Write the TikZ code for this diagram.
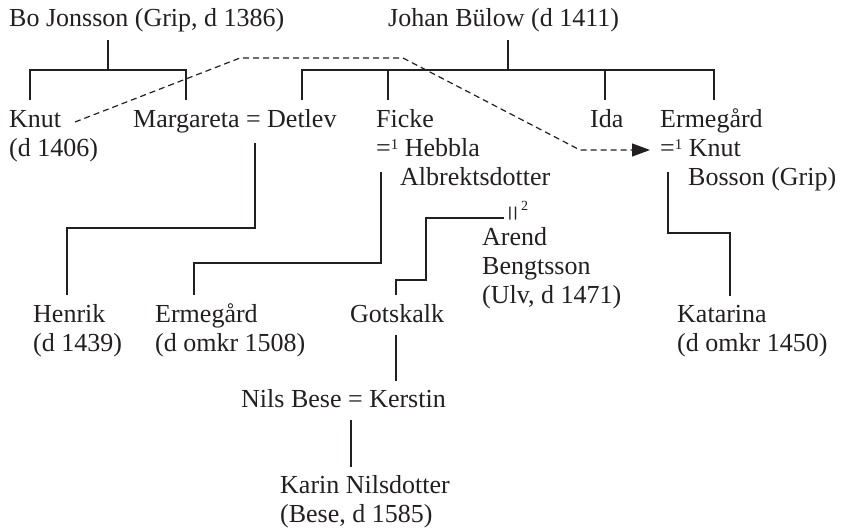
\documentclass[tikz,border=0pt]{standalone}
\usepackage{fontspec}
\setmainfont{Liberation Serif}
\usetikzlibrary{arrows.meta}
\definecolor{ink}{RGB}{35,31,32}
\newcommand{\myone}{\raisebox{7pt}{\fontsize{15}{15}\selectfont 1}}
\begin{document}
\begin{tikzpicture}[x=1pt,y=-1pt,
  lbl/.style={anchor=base west, inner sep=0pt, font=\fontsize{26}{29}\selectfont, text=ink},
  link/.style={draw=ink, line width=1.2pt},
  dashlink/.style={draw=ink, line width=1.2pt, dash pattern=on 6pt off 4pt},
  arrowtip/.style={-{Triangle[length=18pt,width=13pt]}}]
\useasboundingbox (0,0) rectangle (841,530);
% names
\node[lbl] (bo) at (9,27) {Bo Jonsson (Grip, d 1386)};
\node[lbl] (johan) at (388,27) {Johan Bülow (d 1411)};
\node[lbl] (knut) at (9,127) {Knut};
\node[lbl] (knutd) at (9,156) {(d 1406)};
\node[lbl] (marg) at (133,127) {Margareta = Detlev};
\node[lbl] (ficke) at (376,127) {Ficke};
\node[lbl] (hebbla) at (376,156) {=\myone{} Hebbla};
\node[lbl] (albr) at (400,185) {Albrektsdotter};
\node[lbl] (ida) at (590,127) {Ida};
\node[lbl] (erm) at (660,127) {Ermegård};
\node[lbl] (knutb) at (660,156) {=\myone{} Knut};
\node[lbl] (bosson) at (688,185) {Bosson (Grip)};
\node[lbl] (arend) at (482,245) {Arend};
\node[lbl] (beng) at (482,274) {Bengtsson};
\node[lbl] (ulv) at (482,303) {(Ulv, d 1471)};
\node[lbl] (henrik) at (33,322) {Henrik};
\node[lbl] (henrikd) at (33,351) {(d 1439)};
\node[lbl] (erm2) at (155,322) {Ermegård};
\node[lbl] (erm2d) at (155,351) {(d omkr 1508)};
\node[lbl] (gots) at (350,322) {Gotskalk};
\node[lbl] (kat) at (677,322) {Katarina};
\node[lbl] (katd) at (677,351) {(d omkr 1450)};
\node[lbl] (nils) at (241,407) {Nils Bese = Kerstin};
\node[lbl] (karin) at (280,493) {Karin Nilsdotter};
\node[lbl] (karind) at (280,522) {(Bese, d 1585)};
\node[inner sep=0pt, rotate=90, text=ink, font=\fontsize{28}{28}\selectfont] (eqtwo) at (516,214) {=};
\node[lbl, font=\fontsize{14}{14}\selectfont] (suptwo) at (521,210) {2};
% coordinates
\coordinate (boT) at (108,40);
\coordinate (boJ) at (108,70);
\coordinate (knutT) at (30,100);
\coordinate (margT) at (186,100);
\coordinate (johT) at (508,40);
\coordinate (johJ) at (508,70);
\coordinate (detT) at (302,100);
\coordinate (fickeT) at (388,100);
\coordinate (idaT) at (605,100);
\coordinate (ermT) at (714,100);
\coordinate (dashA) at (75,122);
\coordinate (dashB) at (240,58);
\coordinate (dashC) at (403,58);
\coordinate (dashD) at (580,150);
\coordinate (dashE) at (650,150);
\coordinate (mdS) at (255,143);
\coordinate (mdJ) at (255,228);
\coordinate (henT) at (67,295);
\coordinate (fhS) at (381,172);
\coordinate (fhJ) at (381,263);
\coordinate (erm2T) at (194,295);
\coordinate (ekS) at (668,172);
\coordinate (ekJ) at (668,233);
\coordinate (katT) at (730,296);
\coordinate (gotT) at (396,295);
\coordinate (gotJ) at (396,280);
\coordinate (gotK) at (426,280);
\coordinate (gotL) at (426,218);
\coordinate (arE) at (504,218);
\coordinate (gotB) at (396,335);
\coordinate (nilsT) at (396,381);
\coordinate (nilsB) at (351,420);
\coordinate (karT) at (351,467);
% connectors
\draw[link] (boT) -- (boJ);
\draw[link] (knutT) -- (knutT |- boJ) -- (margT |- boJ) -- (margT);
\draw[link] (johT) -- (johJ);
\draw[link] (detT) -- (detT |- johJ) -- (ermT |- johJ) -- (ermT);
\draw[link] (fickeT |- johJ) -- (fickeT);
\draw[link] (idaT |- johJ) -- (idaT);
\draw[dashlink, arrowtip] (dashA) -- (dashB) -- (dashC) -- (dashD) -- (dashE);
\draw[link] (mdS) -- (mdJ) -| (henT);
\draw[link] (fhS) -- (fhJ) -| (erm2T);
\draw[link] (ekS) -- (ekJ) -| (katT);
\draw[link] (gotT) -- (gotJ) -- (gotK) -- (gotL) -- (arE);
\draw[link] (gotB) -- (nilsT);
\draw[link] (nilsB) -- (karT);
\end{tikzpicture}
\end{document}
